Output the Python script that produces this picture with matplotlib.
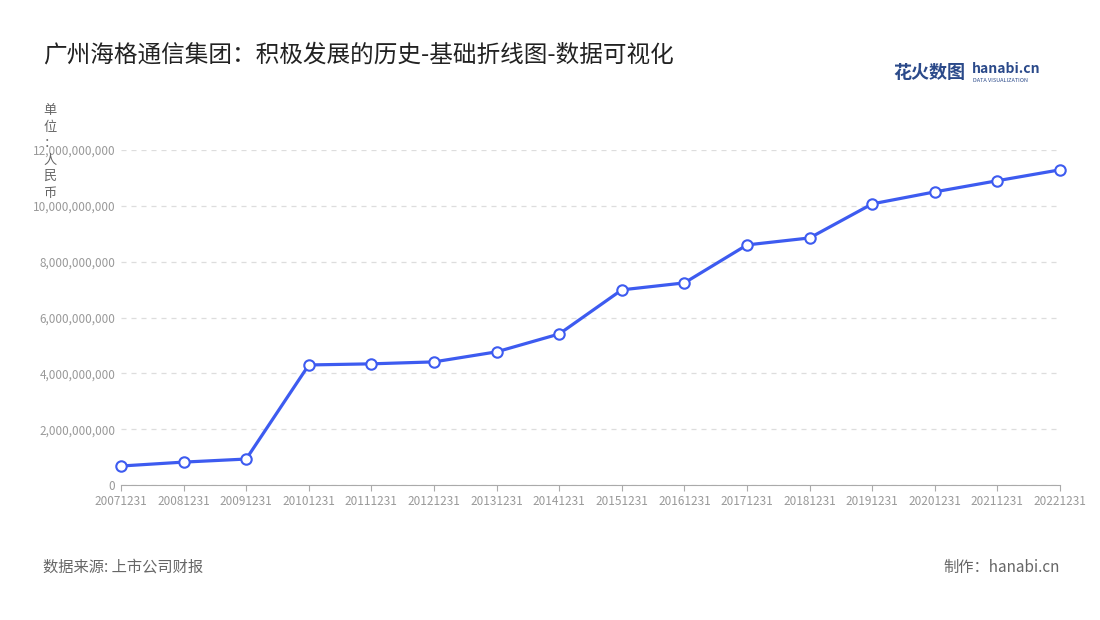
import matplotlib.pyplot as plt

plt.rcParams['font.family'] = ['Noto Sans CJK SC', 'DejaVu Sans']

dates = ['20071231', '20081231', '20091231', '20101231', '20111231', '20121231',
         '20131231', '20141231', '20151231', '20161231', '20171231', '20181231',
         '20191231', '20201231', '20211231', '20221231']
values = [0.68e9, 0.82e9, 0.93e9, 4.30e9, 4.34e9, 4.41e9, 4.77e9, 5.41e9,
          6.99e9, 7.24e9, 8.60e9, 8.85e9, 10.07e9, 10.50e9, 10.90e9, 11.29e9]
yticks = [0, 2e9, 4e9, 6e9, 8e9, 10e9, 12e9]

fig = plt.figure(figsize=(11, 6.2), dpi=100)
ax = fig.add_axes([121/1100, 1-485/620, (1060-121)/1100, 335/620])
x = list(range(len(dates)))
ax.plot(x, values, color='#3d5bf0', lw=2.3, marker='o', ms=7.5,
        mfc='white', mec='#3d5bf0', mew=1.5, zorder=3, clip_on=False)
ax.set_xlim(0, len(dates)-1)
ax.set_ylim(0, 12e9)
ax.set_xticks(x)
ax.set_xticklabels(dates, fontsize=8.5, color='#999999')
ax.set_yticks(yticks)
ax.set_yticklabels([f'{int(v):,}' for v in yticks], fontsize=8.5, color='#999999')
ax.grid(axis='y', ls=(0, (4, 4)), color='#dddddd', lw=0.9)
for s in ['top', 'right', 'left']:
    ax.spines[s].set_visible(False)
ax.spines['bottom'].set_color('#aaaaaa')
ax.tick_params(axis='y', length=0, pad=4)
ax.tick_params(axis='x', length=4, color='#aaaaaa', pad=3)

fig.text(43/1100, 1-55/620, '广州海格通信集团：积极发展的历史-基础折线图-数据可视化',
         fontsize=17, va='center', color='#222222')
fig.text(50/1100, 1-152/620, '单\n位\n：\n人\n民\n币', fontsize=9.5, color='#666666',
         ha='center', va='center', linespacing=1.35)
fig.text(43/1100, 1-567/620, '数据来源: 上市公司财报', fontsize=11, color='#666666', va='center')
fig.text(1060/1100, 1-567/620, '制作：hanabi.cn', fontsize=11, color='#666666',
         va='center', ha='right')
fig.text(893/1100, 1-72/620, '花火数图', fontsize=13, color='#2b4a8a',
         weight='bold', va='center')
fig.text(972/1100, 1-69/620, 'hanabi.cn', fontsize=10, color='#2b4a8a',
         weight='bold', va='center')
fig.text(973/1100, 1-80/620, 'DATA VISUALIZATION', fontsize=4, color='#2b4a8a', va='center')

fig.savefig('out.png', dpi=100)
